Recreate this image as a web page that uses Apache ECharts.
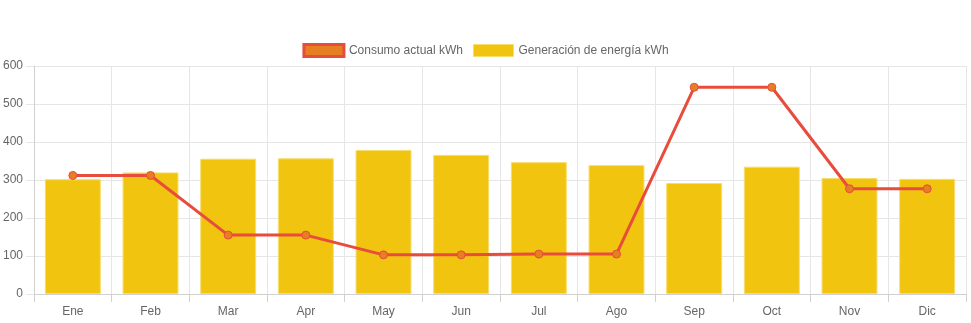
<!DOCTYPE html>
<html><head><meta charset="utf-8">
<script src="https://cdn.jsdelivr.net/npm/echarts@6/dist/echarts.min.js"></script>
<style>html,body{margin:0;padding:0;background:#fff}#c{width:971px;height:323px}</style>
</head><body><div id="c"></div>
<script>
const months = ['Ene','Feb','Mar','Apr','May','Jun','Jul','Ago','Sep','Oct','Nov','Dic'];
const consumo = [312,312,155,155,103,103,105,105,544,544,277,277];
const generacion = [302,320,356,357,379,366,347,339,292,335,305,303];
const yTicks = [0,100,200,300,400,500,600];

const chart = echarts.init(document.getElementById('c'), null, {renderer:'canvas'});
const font = 'Liberation Sans, Arial, Helvetica, sans-serif';
chart.setOption({
  animation:false,
  textStyle:{fontFamily:font},
  legend:{
    top:43, left:'center', padding:0, itemWidth:40, itemHeight:12, itemGap:10,
    textStyle:{color:'#666', fontSize:12, fontFamily:font},
    data:[
      {name:'Consumo actual kWh', icon:'rect', itemStyle:{color:'#e67e22', borderColor:'#e74c3c', borderWidth:3}},
      {name:'Generación de energía kWh', icon:'rect', itemStyle:{color:'#f1c40f', borderColor:'#f7dc6f', borderWidth:1}}
    ]
  },
  grid:{left:34, right:5, top:66, bottom:29, containLabel:false},
  xAxis:{
    type:'category', data:months, boundaryGap:true,
    axisLine:{show:true, lineStyle:{color:'#d0d0d0'}},
    axisTick:{show:true, length:8, lineStyle:{color:'#d0d0d0'}},
    axisLabel:{color:'#666', fontSize:12, margin:12, fontFamily:font},
    splitLine:{show:true, lineStyle:{color:'#e6e6e6'}}
  },
  yAxis:{
    type:'value', min:yTicks[0], max:yTicks[yTicks.length-1], interval:100,
    axisLine:{show:true, lineStyle:{color:'#d0d0d0'}},
    axisTick:{show:true, length:8, lineStyle:{color:'#e6e6e6'}},
    axisLabel:{color:'#666', fontSize:12, margin:11, fontFamily:font},
    splitLine:{show:true, lineStyle:{color:'#e6e6e6'}}
  },
  series:[
    {name:'Consumo actual kWh', type:'line', data:consumo, z:5,
     lineStyle:{color:'#e74c3c', width:3},
     symbol:'circle', symbolSize:8,
     itemStyle:{color:'#e67e22', borderColor:'#e74c3c', borderWidth:1}},
    {name:'Generación de energía kWh', type:'bar', data:generacion, z:2,
     barCategoryGap:'28%',
     itemStyle:{color:'#f1c40f', borderColor:'#f7dc6f', borderWidth:1}}
  ]
});
</script></body></html>
